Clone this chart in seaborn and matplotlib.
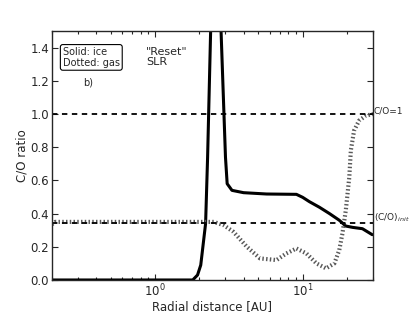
import numpy as np
import pandas as pd
import matplotlib
matplotlib.use('Agg')
import matplotlib.pyplot as plt
import seaborn as sns

# ice (solid) C/O ratio vs radial distance
ice_r = [0.2, 1.6, 1.8, 1.94, 2.04, 2.2, 2.27, 2.38, 2.58, 2.8, 3.0, 3.08, 3.32,
         3.98, 5.7, 9.07, 10.0, 11.1, 13.0, 15.2, 17.7, 19.6, 21.8, 25.4, 29.6]
ice_co = [0.0, 0.0, 0.0, 0.03, 0.09, 0.34, 0.74, 1.5, 2.6, 1.5, 0.74, 0.58, 0.54,
          0.526, 0.518, 0.516, 0.498, 0.472, 0.438, 0.40, 0.36, 0.325, 0.317, 0.309, 0.273]

# gas (dotted) C/O ratio vs radial distance
gas_r = [0.2, 0.21, 1.0, 2.5, 2.92, 3.4, 4.19, 5.14, 6.65, 7.76, 9.07, 10.6, 12.4,
         14.4, 16.4, 17.7, 18.6, 19.6, 20.7, 21.2, 22.3, 24.1, 26.8, 30.0]
gas_co = [0.335, 0.35, 0.35, 0.35, 0.33, 0.29, 0.20, 0.13, 0.12, 0.16, 0.19, 0.16, 0.10,
          0.07, 0.10, 0.18, 0.28, 0.42, 0.62, 0.78, 0.90, 0.96, 0.99, 1.0]

co_solar = 1.0
co_init = 0.345

ice = pd.DataFrame({'r': ice_r, 'co': ice_co})
gas = pd.DataFrame({'r': gas_r, 'co': gas_co})

sns.set_style('ticks', {'xtick.direction': 'in', 'ytick.direction': 'in'})
plt.rcParams['font.family'] = ['DejaVu Sans']

fig = plt.figure(figsize=(4.15, 3.12), dpi=100)
ax = fig.add_axes([0.125, 0.1026, 0.774, 0.798])

sns.lineplot(data=ice, x='r', y='co', ax=ax, color='black', lw=2.2, sort=False,
             estimator=None)
sns.lineplot(data=gas, x='r', y='co', ax=ax, color='0.35', lw=3.0, sort=False,
             estimator=None, linestyle=(0, (0.35, 0.55)))

ax.axhline(co_solar, color='black', lw=1.3, dashes=(3, 2.5))
ax.axhline(co_init, color='black', lw=1.3, dashes=(3, 2.5))

ax.set_xscale('log')
ax.set_xlim(0.2, 30)
ax.set_ylim(0, 1.5)
ax.set_yticks(np.arange(0, 1.41, 0.2))
ax.set_xlabel('Radial distance [AU]', fontsize=8.5, labelpad=0.5)
ax.set_ylabel('C/O ratio', fontsize=8.5, labelpad=1)
ax.tick_params(which='both', top=True, right=True, labelsize=8.5, width=0.8, pad=2)
ax.tick_params(which='major', length=4)
ax.tick_params(which='minor', length=2)
for s in ax.spines.values():
    s.set_linewidth(1.0)

ax.text(0.034, 0.894, 'Solid: ice\nDotted: gas', transform=ax.transAxes,
        fontsize=7, va='center', ha='left', linespacing=1.1,
        bbox=dict(boxstyle='round,pad=0.25', fc='white', ec='black', lw=0.8))
ax.text(0.112, 0.795, 'b)', transform=ax.transAxes, fontsize=7,
        va='center', ha='center')
ax.text(0.293, 0.896, '"Reset"\nSLR', transform=ax.transAxes, fontsize=8,
        va='center', ha='left', linespacing=1.1)
ax.text(30.3, co_solar + 0.02, 'C/O=1', fontsize=6.5, va='center', ha='left')
ax.text(30.3, co_init + 0.03, '(C/O)$_{init}$', fontsize=6.5, va='center', ha='left')

fig.savefig('out.png', dpi=100)
